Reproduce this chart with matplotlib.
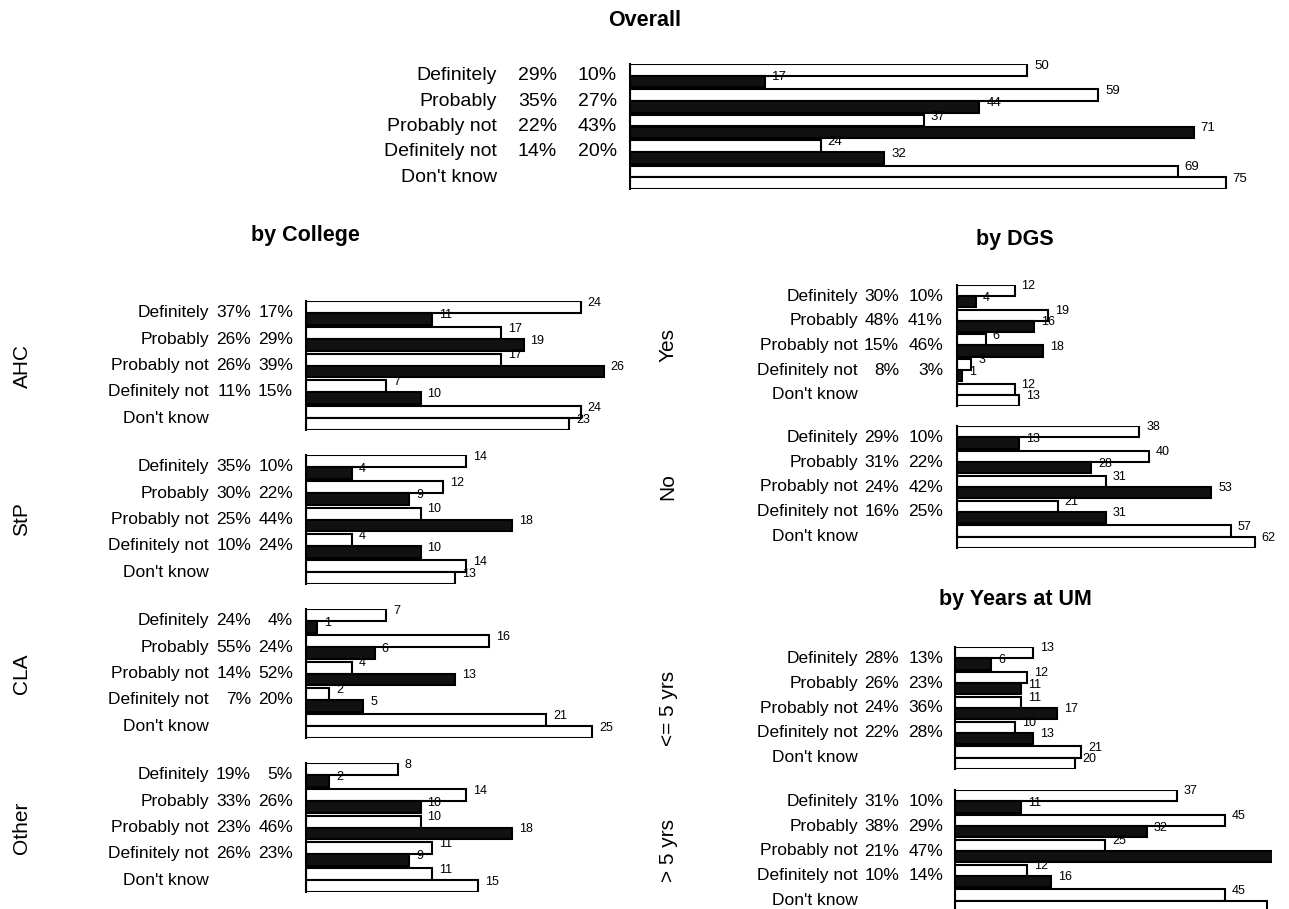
import matplotlib.pyplot as plt

plt.rcParams['font.family'] = ['Liberation Sans', 'DejaVu Sans']

W, H = 1289, 909

categorias = ['Definitely', 'Probably', 'Probably not', 'Definitely not', "Don't know"]

# Overall
overall_a = [50, 59, 37, 24, 69]
overall_b = [17, 44, 71, 32, 75]
overall_pct_a = ['29%', '35%', '22%', '14%', '']
overall_pct_b = ['10%', '27%', '43%', '20%', '']

# by College
ahc_a = [24, 17, 17, 7, 24]
ahc_b = [11, 19, 26, 10, 23]
ahc_pct_a = ['37%', '26%', '26%', '11%', '']
ahc_pct_b = ['17%', '29%', '39%', '15%', '']

stp_a = [14, 12, 10, 4, 14]
stp_b = [4, 9, 18, 10, 13]
stp_pct_a = ['35%', '30%', '25%', '10%', '']
stp_pct_b = ['10%', '22%', '44%', '24%', '']

cla_a = [7, 16, 4, 2, 21]
cla_b = [1, 6, 13, 5, 25]
cla_pct_a = ['24%', '55%', '14%', '7%', '']
cla_pct_b = ['4%', '24%', '52%', '20%', '']

other_a = [8, 14, 10, 11, 11]
other_b = [2, 10, 18, 9, 15]
other_pct_a = ['19%', '33%', '23%', '26%', '']
other_pct_b = ['5%', '26%', '46%', '23%', '']

# by DGS
yes_a = [12, 19, 6, 3, 12]
yes_b = [4, 16, 18, 1, 13]
yes_pct_a = ['30%', '48%', '15%', '8%', '']
yes_pct_b = ['10%', '41%', '46%', '3%', '']

no_a = [38, 40, 31, 21, 57]
no_b = [13, 28, 53, 31, 62]
no_pct_a = ['29%', '31%', '24%', '16%', '']
no_pct_b = ['10%', '22%', '42%', '25%', '']

# by Years at UM
menos5_a = [13, 12, 11, 10, 21]
menos5_b = [6, 11, 17, 13, 20]
menos5_pct_a = ['28%', '26%', '24%', '22%', '']
menos5_pct_b = ['13%', '23%', '36%', '28%', '']

mas5_a = [37, 45, 25, 12, 45]
mas5_b = [11, 32, 53, 16, 52]
mas5_pct_a = ['31%', '38%', '21%', '10%', '']
mas5_pct_b = ['10%', '29%', '47%', '14%', '']

fig = plt.figure(figsize=(W / 100, H / 100), dpi=100)


def panel(x0, top, alto, escala, x1, serie_a, serie_b, pct_a, pct_b,
          cols, fs, vfs, grupo=None, sin_etiqueta=()):
    ax = fig.add_axes([x0 / W, 1 - (top + alto) / H, (x1 - x0) / W, alto / H])
    paso = 2.2
    for k in range(5):
        y_a = paso * k
        y_b = paso * k + 1
        color_b = 'white' if k == 4 else '#111111'
        ax.barh(y_a, serie_a[k], height=1.0, color='white', edgecolor='black', linewidth=1.5)
        ax.barh(y_b, serie_b[k], height=1.0, color=color_b, edgecolor='black', linewidth=1.5)
        for j, (v, y) in enumerate([(serie_a[k], y_a), (serie_b[k], y_b)]):
            # las etiquetas que quedan fuera de la imagen no se dibujan
            if (k, j) in sin_etiqueta:
                continue
            ax.annotate(str(v), (v, y), xytext=(5, 3), textcoords='offset points',
                        fontsize=vfs, va='center', ha='left', annotation_clip=False)
        # etiquetas de la fila
        yc = paso * k + 0.5
        ax.text((cols[0] - x0) / escala, yc, categorias[k], ha='right', va='center',
                fontsize=fs, clip_on=False)
        ax.text((cols[1] - x0) / escala, yc, pct_a[k], ha='right', va='center',
                fontsize=fs, clip_on=False)
        ax.text((cols[2] - x0) / escala, yc, pct_b[k], ha='right', va='center',
                fontsize=fs, clip_on=False)
    ax.set_xlim(0, (x1 - x0) / escala)
    ax.set_ylim(paso * 4 + 1.5, -0.5)
    for s in ['top', 'right', 'bottom']:
        ax.spines[s].set_visible(False)
    ax.spines['left'].set_linewidth(1.5)
    ax.set_xticks([])
    ax.set_yticks([])
    ax.patch.set_alpha(0)
    if grupo is not None:
        fig.text(grupo[1] / W, 1 - (top + alto / 2) / H, grupo[0], rotation=90,
                 ha='center', va='center', fontsize=15)
    return ax


# Overall
panel(630, 64, 125, 7.94, 1289, overall_a, overall_b, overall_pct_a, overall_pct_b,
      (497, 557, 617), 14, 9.5)

# by College
col_cols = (209, 251, 293)
panel(306, 301, 129, 11.45, 640, ahc_a, ahc_b, ahc_pct_a, ahc_pct_b, col_cols, 12.5, 9, ('AHC', 22))
panel(306, 455, 129, 11.45, 640, stp_a, stp_b, stp_pct_a, stp_pct_b, col_cols, 12.5, 9, ('StP', 22))
panel(306, 609, 129, 11.45, 640, cla_a, cla_b, cla_pct_a, cla_pct_b, col_cols, 12.5, 9, ('CLA', 22))
panel(306, 763, 129, 11.45, 640, other_a, other_b, other_pct_a, other_pct_b, col_cols, 12.5, 9, ('Other', 22))

# by DGS
der_cols = (858, 899, 943)
panel(957, 285, 121, 4.8, 1289, yes_a, yes_b, yes_pct_a, yes_pct_b, der_cols, 12.5, 9, ('Yes', 668))
panel(957, 426, 122, 4.8, 1289, no_a, no_b, no_pct_a, no_pct_b, der_cols, 12.5, 9, ('No', 668))

# by Years at UM
panel(955, 647, 122, 6.0, 1289, menos5_a, menos5_b, menos5_pct_a, menos5_pct_b, der_cols, 12.5, 9, ('<= 5 yrs', 668))
panel(955, 790, 122, 6.0, 1272, mas5_a, mas5_b, mas5_pct_a, mas5_pct_b, der_cols, 12.5, 9, ('> 5 yrs', 668),
      sin_etiqueta=[(2, 1), (4, 1)])

# titulos
fig.text(645 / W, 1 - 20 / H, 'Overall', ha='center', va='center', fontsize=15.5, fontweight='bold')
fig.text(305 / W, 1 - 236 / H, 'by College', ha='center', va='center', fontsize=15.5, fontweight='bold')
fig.text(1015 / W, 1 - 240 / H, 'by DGS', ha='center', va='center', fontsize=15.5, fontweight='bold')
fig.text(1015 / W, 1 - 600 / H, 'by Years at UM', ha='center', va='center', fontsize=15.5, fontweight='bold')

plt.savefig('out.png', dpi=100)
